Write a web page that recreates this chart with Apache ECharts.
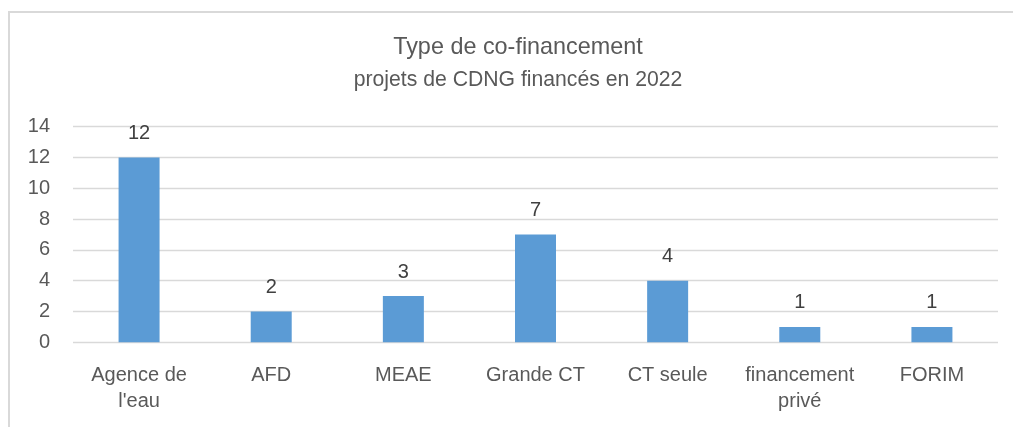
<!DOCTYPE html>
<html>
<head>
<meta charset="utf-8">
<script src="https://cdn.jsdelivr.net/npm/echarts@6/dist/echarts.min.js"></script>
<style>
html,body{margin:0;padding:0;background:#fff;}
#chart{width:1013px;height:427px;}
</style>
</head>
<body>
<div id="chart"></div>
<script>
const titleText = "Type de co-financement";
const subtitleText = "projets de CDNG financés en 2022";
const categories = ["Agence de\nl'eau", "AFD", "MEAE", "Grande CT", "CT seule", "financement\nprivé", "FORIM"];
const values = [12, 2, 3, 7, 4, 1, 1];
const yTicks = [0, 2, 4, 6, 8, 10, 12, 14];

const FONT = "Liberation Sans";
const TXT = "#595959";
const chart = echarts.init(document.getElementById('chart'), null, {renderer: 'canvas'});
chart.setOption({
  animation: false,
  backgroundColor: '#ffffff',
  graphic: [{
    type: 'rect',
    shape: {x: 9, y: 12, width: 1100, height: 600},
    style: {fill: 'none', stroke: '#D9D9D9', lineWidth: 2},
    silent: true
  }],
  title: [
    {text: titleText, left: 518, textAlign: 'center', top: 36.5,
     textStyle: {fontFamily: FONT, fontSize: 23.4, fontWeight: 'normal', color: TXT, lineHeight: 23}, padding: 0},
    {text: subtitleText, left: 518, textAlign: 'center', top: 70,
     textStyle: {fontFamily: FONT, fontSize: 21.2, fontWeight: 'normal', color: TXT, lineHeight: 21}, padding: 0}
  ],
  grid: {left: 73, right: 15, top: 126.7, bottom: 84.7, outerBoundsMode: 'none', containLabel: false},
  xAxis: {
    type: 'category',
    data: categories,
    axisLine: {show: false},
    axisTick: {show: false},
    axisLabel: {fontFamily: FONT, fontSize: 20, color: TXT, lineHeight: 26, margin: 20, interval: 0}
  },
  yAxis: {
    type: 'value',
    min: yTicks[0],
    max: yTicks[yTicks.length - 1],
    interval: yTicks[1] - yTicks[0],
    axisLine: {show: false},
    axisTick: {show: false},
    splitLine: {lineStyle: {color: '#D9D9D9', width: 1.3}},
    axisLabel: {fontFamily: FONT, fontSize: 20, color: TXT, margin: 23}
  },
  series: [{
    type: 'bar',
    data: values,
    barWidth: 41,
    itemStyle: {color: '#5B9BD5'},
    label: {show: true, position: 'top', distance: 14, fontFamily: FONT, fontSize: 20, color: '#404040', lineHeight: 20}
  }]
});
</script>
</body>
</html>
